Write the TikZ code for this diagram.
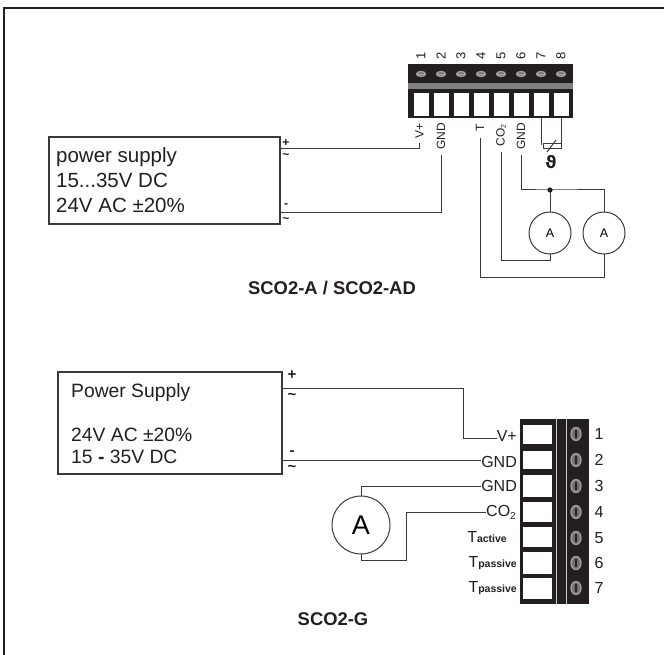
\documentclass[tikz,border=0pt]{standalone}
\usepackage{fontspec}
\setmainfont{Liberation Sans}
\newcommand{\fs}[1]{\fontsize{#1}{#1}\selectfont}
\definecolor{ink}{HTML}{231F20}
\definecolor{wirecol}{HTML}{3A3A3A}
\definecolor{screwcol}{HTML}{A8A8A8}
\tikzset{
  x=1pt,y=-1pt,
  frameline/.style={draw=ink,line width=2.6pt},
  wire/.style={draw=wirecol,line width=1pt},
  psubox/.style={draw=wirecol,line width=1.1pt,rectangle,anchor=north west,inner sep=0pt,outer sep=0pt},
  termblock/.style={fill=ink,draw=none,rectangle,anchor=north west,inner sep=0pt},
  slot/.style={fill=white,draw=none,rectangle,inner sep=0pt,anchor=north west},
  screw/.style={ellipse,fill=screwcol!60!ink,draw=screwcol,line width=1.2pt,inner sep=0pt},
  ammeter/.style={circle,draw=wirecol,line width=1pt,fill=white,inner sep=0pt,outer sep=0pt},
  lbl/.style={inner sep=0pt,text=ink},
  up/.style={lbl,rotate=90,font=\fs{12}},
  lowlbl/.style={lbl,anchor=east,font=\fs{16}},
  sign/.style={lbl,font=\bfseries\fs{12}},
  bigsign/.style={lbl,font=\bfseries\fs{15}},
  title/.style={lbl,font=\bfseries\fs{18.4}},
}
\usetikzlibrary{shapes.geometric}
\begin{document}
\begin{tikzpicture}
\useasboundingbox (0,0) rectangle (664,655);
\fill[white] (0,0) rectangle (664,655);
\coordinate (fa) at (4,655); \coordinate (fb) at (4,8); \coordinate (fc) at (664,8);
\draw[frameline] (fa) -- (fb) -- (fc);

% --- upper diagram ---
\node[psubox,minimum width=231pt,minimum height=87pt] (psa) at (49,137) {};
\node[lbl,anchor=north west,align=left,font=\fontsize{20.5}{25}\selectfont] (psat) at (56,147) {power supply\\15...35V DC\\24V AC ±20\%};
\node[sign] (pp) at (286,143) {+};
\node[sign] (pt) at (286,156) {\~{}};
\node[sign] (mp) at (286,206) {-};
\node[sign] (mt) at (286,220) {\~{}};

\node[termblock,minimum width=165pt,minimum height=54pt] (tb) at (408,64) {};
\fill[screwcol!70!ink] (408,83) rectangle (573,89);
\foreach \i/\n in {0/1,1/2,2/3,3/4,4/5,5/6,6/7,7/8}{
  \node[up,font=\fs{13}] (n\n) at (421+20*\i,56) {\n};
  \node[screw,minimum width=9pt,minimum height=5pt] (s\n) at (421+20*\i,74) {};
  \fill[screwcol] (421+20*\i-4,73.6) rectangle (421+20*\i+4,74.4);
  \node[slot,minimum width=15pt,minimum height=23pt] (t\n) at (413.5+20*\i,93) {};
}
\node[up,anchor=east] (lv) at (419.5,123) {V+};
\node[up,anchor=east] (lg) at (441,123) {GND};
\node[up,anchor=east] (lt) at (480,124) {T};
\node[up,anchor=east] (lc) at (501,124) {CO\raisebox{-0.2ex}{\fs{7}2}};
\node[up,anchor=east] (lg2) at (521,123) {GND};

\node[ammeter,minimum size=42pt,font=\fs{12.5}] (a1) at (550,233) {A};
\node[ammeter,minimum size=42pt,font=\fs{12.5}] (a2) at (604,233) {A};
\coordinate (cv) at (419,149);
\coordinate (pa1) at (281,149);
\draw[wire] (pa1) -- (cv) -- (419,143);
\coordinate (cg) at (441,213);
\coordinate (pa2) at (281,213);
\draw[wire] (pa2) -- (cg) -- (441,155);
\coordinate (ct) at (480,277);
\draw[wire] (a2.south) |- (ct) -- (480,138);
\coordinate (cc) at (501,260);
\draw[wire] (a1.south) |- (cc) -- (501,152);
\coordinate (dot) at (550,190);
\coordinate (cg2) at (521,190);
\draw[wire] (521,155) -- (cg2) -- (dot) -- (604,190) -- (a2.north);
\draw[wire] (dot) -- (a1.north);
\fill[ink] (dot) circle (2.6);
% thermistor
\draw[wire] (541,118) -- (541,145);
\draw[wire] (561,118) -- (561,145);
\node[draw=wirecol,line width=1pt,fill=white,rectangle,inner sep=0pt,minimum width=18pt,minimum height=5pt] (th) at (552,146.5) {};
\draw[wire] (547,152) -- (556,140);
\node[lbl,font=\bfseries\fs{17}] (theta) at (551,162) {\fontspec{DejaVu Sans}ϑ};
\node[title] (ta) at (332,288) {SCO2-A / SCO2-AD};

% --- lower diagram ---
\node[psubox,minimum width=224pt,minimum height=102pt] (psb) at (58,372) {};
\node[lbl,anchor=north west,align=left,font=\fontsize{19.3}{22}\selectfont] (psbt) at (71,383) {Power Supply\\ \\24V AC ±20\%\\15 \textbf{-} 35V DC};
\node[bigsign] (p2) at (292,375) {+};
\node[bigsign] (p3) at (292,396) {\~{}};
\node[bigsign] (m2) at (292,453) {-};
\node[bigsign] (m3) at (292,468) {\~{}};

\node[termblock,minimum width=69pt,minimum height=185pt] (tc) at (520,419) {};
\foreach \t/\h in {425/19,451/18,475/22,502/20,527/20,552/22,578/21}{
  \node[slot,minimum width=29pt,minimum height=\h pt] at (523,\t) {};
}
\fill[white!75!ink] (555.5,419) rectangle (556.7,604);
\fill[white!75!ink] (565.5,419) rectangle (566.7,604);
\foreach \n/\yy in {1/434,2/460,3/486,4/512,5/538,6/563,7/588}{
  \node[screw,minimum width=10pt,minimum height=13pt] (q\n) at (576,\yy) {};
  \fill[ink] (575.2,\yy-4) rectangle (576.8,\yy+4);
  \node[lbl,font=\fs{16}] (r\n) at (599,\yy) {\n};
}
\node[lowlbl] (bv) at (517,436) {V+};
\node[lowlbl] (bg) at (517,462) {GND};
\node[lowlbl] (bg2) at (517,486) {GND};
\node[lowlbl] (bc) at (516,512) {CO\raisebox{-0.35ex}{\fs{10}2}};
\node[lowlbl,anchor=base east] (ba) at (507,542) {T\fs{10.5}\bfseries active};
\node[lowlbl,anchor=base east] (bp) at (517,567) {T\fs{10.5}\bfseries passive};
\node[lowlbl,anchor=base east] (bq) at (517,592) {T\fs{10.5}\bfseries passive};

\node[ammeter,minimum size=58pt,font=\fs{27}] (a3) at (361,525) {A};
\coordinate (c1) at (463,388);
\coordinate (c2) at (463,438);
\coordinate (pb1) at (282,388);
\draw[wire] (pb1) -- (c1) -- (c2) -- (bv.west |- c2);
\coordinate (pb2) at (282,460);
\draw[wire] (pb2) -- (bg.west |- pb2);
\draw[wire] (a3.north) |- (bg2.west);
\coordinate (c3) at (406,560);
\draw[wire] (a3.south) |- (c3) |- (bc.west);
\node[title] (tg) at (333,619) {SCO2-G};
\end{tikzpicture}
\end{document}
